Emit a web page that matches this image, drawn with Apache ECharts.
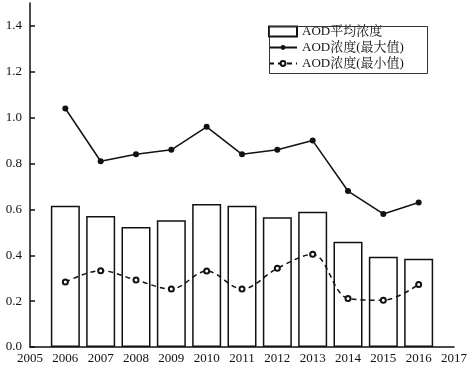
<!DOCTYPE html>
<html><head><meta charset="utf-8">
<script src="https://cdn.jsdelivr.net/npm/echarts@6/dist/echarts.min.js"></script>
<style>html,body{margin:0;padding:0;background:#fff}#c{width:470px;height:370px}</style>
</head><body><div id="c"></div>
<script>
const years = [2006,2007,2008,2009,2010,2011,2012,2013,2014,2015,2016];
const avgVals = [0.616,0.571,0.523,0.553,0.624,0.616,0.566,0.590,0.459,0.393,0.385];
const maxVals = [1.04,0.81,0.84,0.86,0.96,0.84,0.86,0.90,0.68,0.58,0.63];
const minVals = [0.283,0.333,0.292,0.253,0.331,0.253,0.343,0.404,0.212,0.204,0.273];
const yTicks = [0,0.2,0.4,0.6,0.8,1.0,1.2,1.4];
const names = ['AOD平均浓度','AOD浓度(最大值)','AOD浓度(最小值)'];

const pair = arr => years.map((y,i)=>[y,arr[i]]);
const font = '"Liberation Serif","Noto Serif CJK SC","Noto Sans CJK SC",serif';
const legendText = {fontFamily:font,fontSize:13,color:'#111'};
const chart = echarts.init(document.getElementById('c'), null, {renderer:'canvas'});
chart.setOption({
  animation:false,
  backgroundColor:'#fff',
  textStyle:{fontFamily:font},
  grid:{left:30,right:15,top:3,bottom:23},
  legend:[
    {orient:'vertical', left:268, top:25, padding:0,
     itemWidth:28, itemHeight:10, icon:'rect', textStyle:legendText, data:[names[0]]},
    {orient:'vertical', left:268, top:41, padding:0, itemGap:3,
     itemWidth:28, itemHeight:6, textStyle:legendText, data:[names[1],names[2]]}
  ],
  graphic:[{type:'rect',left:267,top:24,shape:{width:158,height:47},
    style:{fill:'none',stroke:'#333',lineWidth:1},silent:true,z:10}],
  xAxis:{
    type:'value', min:2005, max:2017, interval:1,
    splitLine:{show:false},
    axisLine:{lineStyle:{color:'#111',width:1.5}},
    axisTick:{show:false},
    axisLabel:{color:'#111',fontSize:13,fontFamily:font,margin:5,formatter:v=>String(v)}
  },
  yAxis:{
    type:'value', min:0, max:1.5, interval:0.2,
    splitLine:{show:false},
    axisLine:{show:true,lineStyle:{color:'#111',width:1.5}},
    axisTick:{show:true,inside:true,length:5,lineStyle:{color:'#111',width:1.5},customValues:yTicks},
    axisLabel:{color:'#111',fontSize:13,fontFamily:font,margin:8,customValues:yTicks,formatter:v=>Number(v).toFixed(1)}
  },
  series:[
    {name:names[0],type:'bar',data:pair(avgVals),barWidth:29,
     itemStyle:{color:'#fff',borderColor:'#111',borderWidth:1.5}},
    {name:names[1],type:'line',data:pair(maxVals),symbol:'circle',symbolSize:6,
     lineStyle:{color:'#111',width:1.5},itemStyle:{color:'#111'}},
    {name:names[2],type:'line',data:pair(minVals),symbol:'emptyCircle',symbolSize:5,smooth:0.35,
     lineStyle:{color:'#111',width:1.5,type:[5,4]},itemStyle:{color:'#111',borderWidth:1}}
  ]
});
</script></body></html>
